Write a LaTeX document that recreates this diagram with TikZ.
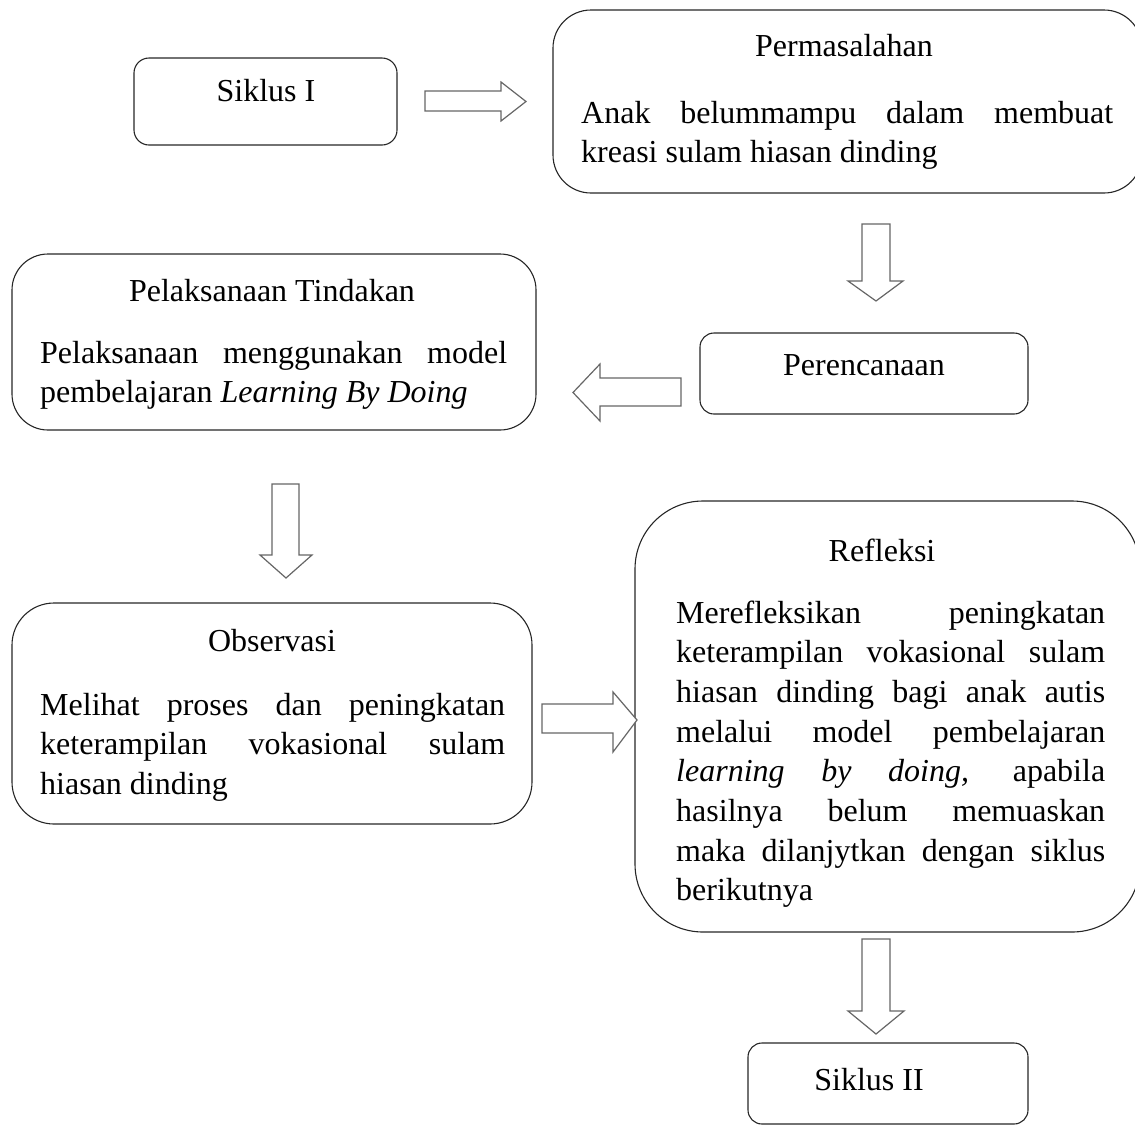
\documentclass[tikz,border=0pt]{standalone}
\usepackage{fontspec}
\setmainfont{Liberation Serif}
\newcommand{\jline}[1]{\makebox[\linewidth][s]{#1}\\}
\begin{document}
\begin{tikzpicture}[x=1pt,y=-1pt,
  box/.style={draw=black!85, line width=1.1pt, inner sep=0pt, outer sep=0pt, anchor=north west},
  barrow/.style={draw=black!60, line width=1.2pt, fill=white, line join=miter},
  ttl/.style={inner sep=0pt, anchor=base, font=\fontsize{32}{39.7}\selectfont},
  txt/.style={inner sep=0pt, anchor=base west, font=\fontsize{32}{39.7}\selectfont}]
\useasboundingbox (0,0) rectangle (1135,1125);
\clip (0,0) rectangle (1135,1125);

% boxes
\node[box, rounded corners=15pt, minimum width=263pt, minimum height=87pt] (s1) at (134,58) {};
\node[box, rounded corners=38pt, minimum width=589pt, minimum height=183pt] (perm) at (553,10) {};
\node[box, rounded corners=36pt, minimum width=524pt, minimum height=176pt] (pel) at (12,254) {};
\node[box, rounded corners=14pt, minimum width=328pt, minimum height=81pt] (ren) at (700,333) {};
\node[box, rounded corners=42pt, minimum width=520pt, minimum height=221pt] (obs) at (12,603) {};
\node[box, rounded corners=68pt, minimum width=505pt, minimum height=431pt] (ref) at (635,501) {};
\node[box, rounded corners=14pt, minimum width=280pt, minimum height=81pt] (s2) at (748,1043) {};

% texts
\node[ttl] (t1) at (266,101) {Siklus I};
\node[ttl] (t2) at (844,56) {Permasalahan};
\node[txt] (b2) at (581,123) {\parbox[t]{532pt}{\jline{Anak belummampu dalam membuat}kreasi sulam hiasan dinding}};
\node[ttl] (t3) at (272,301) {Pelaksanaan Tindakan};
\node[txt] (b3) at (40,363) {\parbox[t]{467pt}{\jline{Pelaksanaan menggunakan model}pembelajaran \textit{Learning By Doing}}};
\node[ttl] (t4) at (864,375) {Perencanaan};
\node[ttl] (t5) at (272,651) {Observasi};
\node[txt] (b5) at (40,715) {\parbox[t]{465pt}{\jline{Melihat proses dan peningkatan}\jline{keterampilan vokasional sulam}hiasan dinding}};
\node[ttl] (t6) at (882,561) {Refleksi};
\node[txt] (b6) at (676,623) {\parbox[t]{429pt}{\jline{Merefleksikan peningkatan}\jline{keterampilan vokasional sulam}\jline{hiasan dinding bagi anak autis}\jline{melalui model pembelajaran}\jline{\textit{learning by doing,} apabila}\jline{hasilnya belum memuaskan}\jline{maka dilanjytkan dengan siklus}berikutnya}};
\node[ttl] (t7) at (869,1090) {Siklus II};

% block arrows
\draw[barrow] (425,91) -- (501,91) -- (501,82) -- (526,101.5) -- (501,121) -- (501,111) -- (425,111) -- cycle;
\draw[barrow] (862,224) -- (890,224) -- (890,281) -- (903,281) -- (876,301) -- (848,281) -- (862,281) -- cycle;
\draw[barrow] (681,378) -- (681,406) -- (600,406) -- (600,421) -- (573,392.5) -- (600,364) -- (600,378) -- cycle;
\draw[barrow] (272,484) -- (299,484) -- (299,555) -- (312,555) -- (286,578) -- (260,555) -- (272,555) -- cycle;
\draw[barrow] (542,704) -- (613,704) -- (613,692) -- (637,720) -- (613,752) -- (613,733) -- (542,733) -- cycle;
\draw[barrow] (862,939) -- (890,939) -- (890,1011) -- (904,1011) -- (876,1034) -- (848,1011) -- (862,1011) -- cycle;
\end{tikzpicture}
\end{document}
